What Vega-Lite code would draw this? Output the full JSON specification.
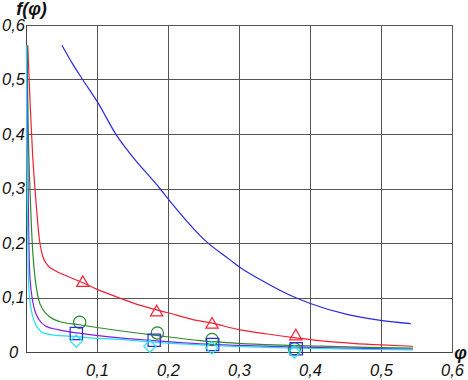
{
  "$schema": "https://vega.github.io/schema/vega-lite/v6.json",
  "width": 426,
  "height": 327,
  "autosize": "none",
  "padding": {"left": 26, "top": 25, "right": 16, "bottom": 28},
  "background": "white",
  "config": {
    "view": {"stroke": "#555", "strokeWidth": 1},
    "axis": {"labelFont": "Liberation Sans, sans-serif", "labelFontStyle": "italic", "labelFontSize": 16.5, "labelColor": "#111", "gridColor": "#555", "gridOpacity": 1, "gridWidth": 1, "domainColor": "#444", "ticks": false, "titleFont": "Liberation Sans, sans-serif", "titleFontStyle": "italic", "titleColor": "#111"}
  },
  "datasets": {
    "curves": [
      {"x": 0.0025, "y": 0.563, "s": "A"}, {"x": 0.006, "y": 0.45, "s": "A"}, {"x": 0.009, "y": 0.37, "s": "A"}, {"x": 0.012, "y": 0.31, "s": "A"}, {"x": 0.015, "y": 0.26, "s": "A"}, {"x": 0.019, "y": 0.205, "s": "A"}, {"x": 0.023, "y": 0.178, "s": "A"}, {"x": 0.03, "y": 0.16, "s": "A"}, {"x": 0.04, "y": 0.15, "s": "A"}, {"x": 0.06, "y": 0.138, "s": "A"}, {"x": 0.08, "y": 0.127, "s": "A"}, {"x": 0.1, "y": 0.115, "s": "A"}, {"x": 0.13, "y": 0.1, "s": "A"}, {"x": 0.16, "y": 0.086, "s": "A"}, {"x": 0.2, "y": 0.072, "s": "A"}, {"x": 0.24, "y": 0.058, "s": "A"}, {"x": 0.26, "y": 0.0535, "s": "A"}, {"x": 0.3, "y": 0.041, "s": "A"}, {"x": 0.34, "y": 0.033, "s": "A"}, {"x": 0.38, "y": 0.026, "s": "A"}, {"x": 0.42, "y": 0.02, "s": "A"}, {"x": 0.46, "y": 0.016, "s": "A"}, {"x": 0.5, "y": 0.013, "s": "A"}, {"x": 0.545, "y": 0.0105, "s": "A"},
      {"x": 0.0015, "y": 0.563, "s": "B"}, {"x": 0.003, "y": 0.42, "s": "B"}, {"x": 0.005, "y": 0.32, "s": "B"}, {"x": 0.007, "y": 0.25, "s": "B"}, {"x": 0.0096, "y": 0.182, "s": "B"}, {"x": 0.012, "y": 0.145, "s": "B"}, {"x": 0.0144, "y": 0.12, "s": "B"}, {"x": 0.018, "y": 0.095, "s": "B"}, {"x": 0.0238, "y": 0.078, "s": "B"}, {"x": 0.032, "y": 0.066, "s": "B"}, {"x": 0.047, "y": 0.056, "s": "B"}, {"x": 0.075, "y": 0.05, "s": "B"}, {"x": 0.1, "y": 0.045, "s": "B"}, {"x": 0.132, "y": 0.039, "s": "B"}, {"x": 0.18, "y": 0.031, "s": "B"}, {"x": 0.245, "y": 0.021, "s": "B"}, {"x": 0.3, "y": 0.016, "s": "B"}, {"x": 0.35, "y": 0.013, "s": "B"}, {"x": 0.4146, "y": 0.0106, "s": "B"}, {"x": 0.48, "y": 0.0085, "s": "B"}, {"x": 0.545, "y": 0.007, "s": "B"},
      {"x": 0.001, "y": 0.563, "s": "C"}, {"x": 0.002, "y": 0.42, "s": "C"}, {"x": 0.003, "y": 0.3, "s": "C"}, {"x": 0.005, "y": 0.151, "s": "C"}, {"x": 0.008, "y": 0.105, "s": "C"}, {"x": 0.012, "y": 0.078, "s": "C"}, {"x": 0.018, "y": 0.06, "s": "C"}, {"x": 0.0285, "y": 0.047, "s": "C"}, {"x": 0.045, "y": 0.041, "s": "C"}, {"x": 0.0614, "y": 0.037, "s": "C"}, {"x": 0.09, "y": 0.032, "s": "C"}, {"x": 0.132, "y": 0.026, "s": "C"}, {"x": 0.18, "y": 0.021, "s": "C"}, {"x": 0.245, "y": 0.015, "s": "C"}, {"x": 0.3, "y": 0.012, "s": "C"}, {"x": 0.38, "y": 0.009, "s": "C"}, {"x": 0.46, "y": 0.007, "s": "C"}, {"x": 0.545, "y": 0.005, "s": "C"},
      {"x": 0.0005, "y": 0.563, "s": "D"}, {"x": 0.001, "y": 0.4, "s": "D"}, {"x": 0.002, "y": 0.25, "s": "D"}, {"x": 0.003, "y": 0.15, "s": "D"}, {"x": 0.005, "y": 0.1, "s": "D"}, {"x": 0.0073, "y": 0.078, "s": "D"}, {"x": 0.012, "y": 0.055, "s": "D"}, {"x": 0.018, "y": 0.042, "s": "D"}, {"x": 0.0238, "y": 0.035, "s": "D"}, {"x": 0.04, "y": 0.031, "s": "D"}, {"x": 0.0614, "y": 0.029, "s": "D"}, {"x": 0.09, "y": 0.026, "s": "D"}, {"x": 0.132, "y": 0.023, "s": "D"}, {"x": 0.18, "y": 0.018, "s": "D"}, {"x": 0.245, "y": 0.013, "s": "D"}, {"x": 0.3, "y": 0.01, "s": "D"}, {"x": 0.38, "y": 0.007, "s": "D"}, {"x": 0.46, "y": 0.005, "s": "D"}, {"x": 0.545, "y": 0.004, "s": "D"},
      {"x": 0.0506, "y": 0.563, "s": "E"}, {"x": 0.065, "y": 0.53, "s": "E"}, {"x": 0.0802, "y": 0.499, "s": "E"}, {"x": 0.1014, "y": 0.457, "s": "E"}, {"x": 0.1274, "y": 0.398, "s": "E"}, {"x": 0.146, "y": 0.365, "s": "E"}, {"x": 0.1886, "y": 0.3, "s": "E"}, {"x": 0.2027, "y": 0.277, "s": "E"}, {"x": 0.2545, "y": 0.202, "s": "E"}, {"x": 0.2874, "y": 0.169, "s": "E"}, {"x": 0.3016, "y": 0.155, "s": "E"}, {"x": 0.3298, "y": 0.133, "s": "E"}, {"x": 0.372, "y": 0.104, "s": "E"}, {"x": 0.4004, "y": 0.089, "s": "E"}, {"x": 0.452, "y": 0.069, "s": "E"}, {"x": 0.4993, "y": 0.058, "s": "E"}, {"x": 0.542, "y": 0.052, "s": "E"}
    ],
    "markers": [
      {"x": 0.08, "y": 0.13, "m": "tri"}, {"x": 0.184, "y": 0.076, "m": "tri"}, {"x": 0.262, "y": 0.0535, "m": "tri"}, {"x": 0.38, "y": 0.032, "m": "tri"},
      {"x": 0.0756, "y": 0.0546, "m": "cir"}, {"x": 0.185, "y": 0.035, "m": "cir"}, {"x": 0.262, "y": 0.023, "m": "cir"}, {"x": 0.378, "y": 0.006, "m": "cir"},
      {"x": 0.0709, "y": 0.034, "m": "sq"}, {"x": 0.1805, "y": 0.0216, "m": "sq"}, {"x": 0.263, "y": 0.0137, "m": "sq"}, {"x": 0.3806, "y": 0.006, "m": "sq"},
      {"x": 0.0709, "y": 0.02, "m": "dia"}, {"x": 0.1745, "y": 0.0106, "m": "dia"}, {"x": 0.2616, "y": 0.0077, "m": "dia"}, {"x": 0.378, "y": 0.0, "m": "dia"}
    ]
  },
  "encoding": {
    "x": {"field": "x", "type": "quantitative", "scale": {"domain": [0, 0.6], "nice": false, "zero": false},
      "axis": {"values": [0, 0.1, 0.2, 0.3, 0.4, 0.5, 0.6], "title": "φ", "titleFontSize": 18, "titleX": 434, "titleY": 1, "titleAlign": "center", "titleBaseline": "middle", "titleAngle": 0,
        "labelAlign": "center", "labelDx": -11, "labelBaseline": "middle", "labelPadding": 18, "labelExpr": "datum.value == 0 ? '' : replace(format(datum.value, '.1f'), '.', ',')", "labelFlush": false}},
    "y": {"field": "y", "type": "quantitative", "scale": {"domain": [0, 0.6], "nice": false, "zero": false},
      "axis": {"values": [0, 0.1, 0.2, 0.3, 0.4, 0.5, 0.6], "title": "f(φ)", "titleFontSize": 18, "titleFontWeight": "bold", "titleAngle": 0, "titleX": 5, "titleY": -16, "titleAlign": "center", "titleBaseline": "middle",
        "labelAlign": "center", "labelBaseline": "middle", "labelPadding": 13, "labelDy": 2, "labelExpr": "datum.value == 0 ? '0' : replace(format(datum.value, '.1f'), '.', ',')", "labelFlush": false}}
  },
  "layer": [
    {
      "data": {"name": "curves"},
      "mark": {"type": "line", "interpolate": "monotone", "strokeWidth": 1.2},
      "encoding": {
        "color": {"field": "s", "type": "nominal", "legend": null, "scale": {"domain": ["A", "B", "C", "D", "E"], "range": ["#ee2233", "#2a8a2a", "#8020e0", "#20e0f0", "#2a2ae0"]}},
        "detail": {"field": "s"}
      }
    },
    {
      "data": {"name": "markers"},
      "mark": {"type": "point", "filled": false, "strokeWidth": 1.2, "opacity": 1},
      "encoding": {
        "shape": {"field": "m", "type": "nominal", "legend": null, "scale": {"domain": ["tri", "cir", "sq", "dia"], "range": ["triangle-up", "circle", "square", "diamond"]}},
        "stroke": {"field": "m", "type": "nominal", "legend": null, "scale": {"domain": ["tri", "cir", "sq", "dia"], "range": ["#ee2233", "#2a8a2a", "#2a2ae0", "#20e0f0"]}},
        "size": {"value": 150}
      }
    }
  ]
}
